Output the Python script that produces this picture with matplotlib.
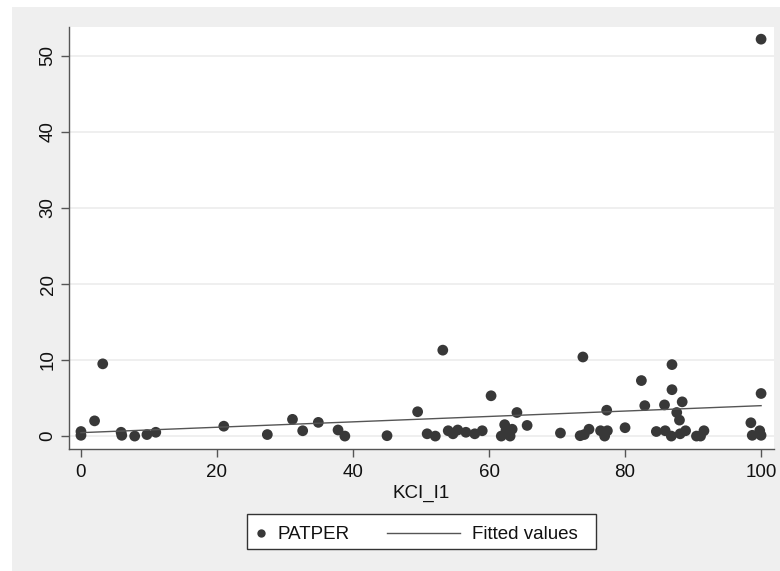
import numpy as np
import matplotlib
matplotlib.use("Agg")
import matplotlib.pyplot as plt
from matplotlib.patches import Rectangle
from matplotlib.lines import Line2D

plt.rcParams["font.family"] = ["Liberation Sans", "DejaVu Sans"]

# KCI_I1 (x) and PATPER (y) observations
kci_i1 = [0.0, 0.0, 2.0, 3.2, 5.9, 6.0, 7.9, 9.7, 11.0, 21.0, 27.4, 31.1, 32.6,
          34.9, 37.8, 38.8, 45.0, 49.5, 50.9, 52.1, 53.2, 54.0, 54.7, 55.4,
          56.6, 57.9, 59.0, 60.3, 61.8, 62.3, 62.5, 63.1, 63.4, 64.1, 65.6,
          70.5, 73.4, 73.8, 74.0, 74.7, 76.4, 77.0, 77.3, 77.4, 80.0, 82.4,
          82.9, 84.6, 85.8, 85.9, 86.8, 86.9, 86.9, 87.6, 88.0, 88.1, 88.4,
          88.9, 90.5, 91.1, 91.6, 98.5, 98.7, 99.8, 100.0, 100.0, 100.0]
patper = [0.6, 0.1, 2.0, 9.5, 0.5, 0.1, 0.0, 0.2, 0.5, 1.3, 0.2, 2.2, 0.7,
          1.8, 0.8, 0.0, 0.05, 3.2, 0.3, 0.0, 11.3, 0.7, 0.3, 0.8,
          0.5, 0.3, 0.7, 5.3, 0.0, 1.5, 0.8, 0.0, 0.9, 3.1, 1.4,
          0.4, 0.05, 10.4, 0.2, 0.9, 0.7, 0.0, 3.4, 0.7, 1.1, 7.3,
          4.0, 0.6, 4.1, 0.7, 0.0, 9.4, 6.1, 3.1, 2.1, 0.3, 4.5,
          0.7, 0.0, 0.0, 0.7, 1.75, 0.1, 0.7, 0.1, 5.6, 52.2]

x_ticks = [0, 20, 40, 60, 80, 100]
y_ticks = [0, 10, 20, 30, 40, 50]

# OLS fitted values
fit_intercept = 0.45
fit_slope = 0.0355

FS = 13.5
DOT = "#383838"
LINE = "#555555"

W, H = 780, 571
fig = plt.figure(figsize=(W / 100, H / 100), dpi=100)
fig.patch.set_facecolor("white")


def fx(px):
    return px / W


def fy(py):
    return 1 - py / H


# grey graph region
fig.add_artist(Rectangle((fx(12), 0), 1 - fx(12), fy(7),
                         transform=fig.transFigure, facecolor="#efefef",
                         edgecolor="none", zorder=-10))

ax = fig.add_axes([fx(69), fy(449), fx(774) - fx(69), fy(27) - fy(449)])
ax.set_facecolor("white")

ax.set_xlim(-1.76, 101.9)
ax.set_ylim(-1.7, 53.8)

for yv in y_ticks:
    ax.axhline(yv, color="#ececec", lw=1.2, zorder=0)

ax.scatter(kci_i1, patper, s=60, color=DOT, edgecolors="none", zorder=3)
xf = np.array([0.0, 100.0])
ax.plot(xf, fit_intercept + fit_slope * xf, color=LINE, lw=1.0, zorder=4)

for side in ("top", "right"):
    ax.spines[side].set_visible(False)
for side in ("left", "bottom"):
    ax.spines[side].set_color(LINE)
    ax.spines[side].set_linewidth(1.0)

ax.set_xticks(x_ticks)
ax.set_yticks(y_ticks)
ax.tick_params(axis="both", direction="out", length=5.5, width=1,
               color=LINE, labelsize=FS, labelcolor="#111111")
ax.tick_params(axis="x", pad=5.2)
ax.tick_params(axis="y", pad=3.4)
for lbl in ax.get_yticklabels():
    lbl.set_rotation(90)
    lbl.set_va("center")

ax.set_xlabel("KCI_I1", fontsize=FS, color="#111111")
ax.xaxis.label.set_va("baseline")
ax.xaxis.set_label_coords(0.5, -(497.5 - 449) / (449 - 27))

# legend box below the plot
fig.add_artist(Rectangle((fx(247), fy(549)), fx(596) - fx(247),
                         fy(514) - fy(549), transform=fig.transFigure,
                         facecolor="white", edgecolor="#333333", lw=1.0))
fig.add_artist(Line2D([fx(260.7)], [fy(533.3)], marker="o", linestyle="none",
                      color=DOT, markersize=6.0, markeredgewidth=0,
                      transform=fig.transFigure))
fig.text(fx(277.3), fy(539.3), "PATPER", fontsize=FS, color="#111111",
         ha="left", va="baseline")
fig.add_artist(Line2D([fx(386.7), fx(460)], [fy(532.7), fy(532.7)],
                      color=LINE, lw=1.0, transform=fig.transFigure))
fig.text(fx(472.3), fy(539.3), "Fitted values", fontsize=FS, color="#111111",
         ha="left", va="baseline")

fig.savefig("out.png", dpi=100)
